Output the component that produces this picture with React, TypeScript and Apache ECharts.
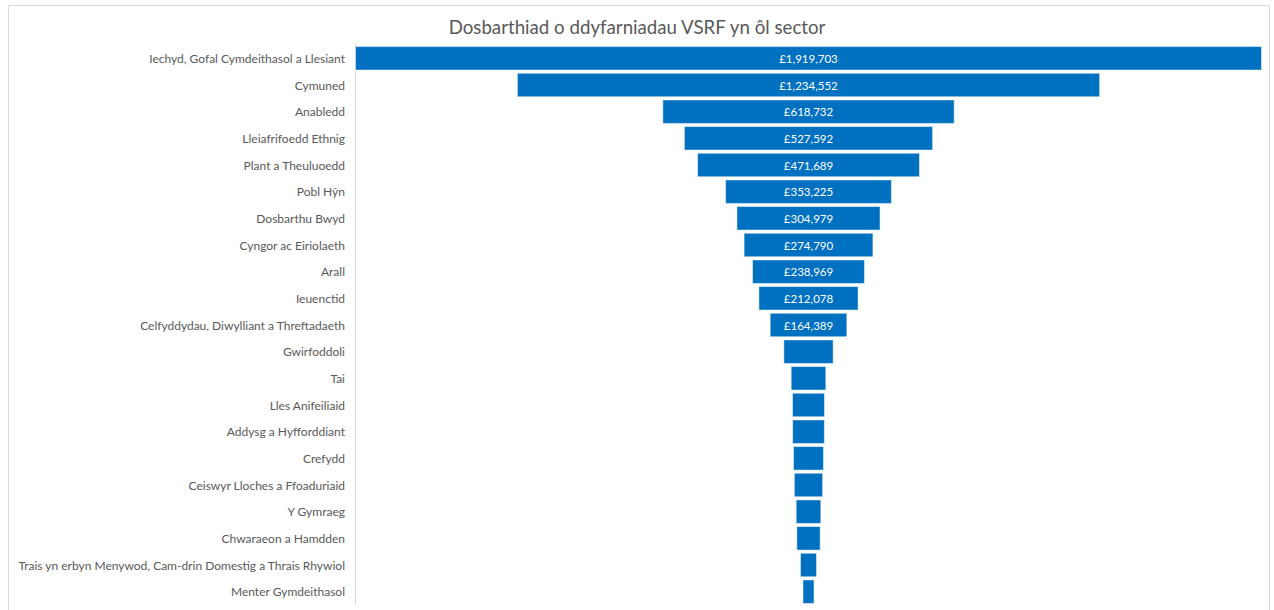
import React, { useEffect, useRef } from "react";
import * as echarts from "echarts";

const title = "Dosbarthiad o ddyfarniadau VSRF yn ôl sector";

const categories = [
  "Iechyd, Gofal Cymdeithasol a Llesiant",
  "Cymuned",
  "Anabledd",
  "Lleiafrifoedd Ethnig",
  "Plant a Theuluoedd",
  "Pobl Hŷn",
  "Dosbarthu Bwyd",
  "Cyngor ac Eiriolaeth",
  "Arall",
  "Ieuenctid",
  "Celfyddydau, Diwylliant a Threftadaeth",
  "Gwirfoddoli",
  "Tai",
  "Lles Anifeiliaid",
  "Addysg a Hyfforddiant",
  "Crefydd",
  "Ceiswyr Lloches a Ffoaduriaid",
  "Y Gymraeg",
  "Chwaraeon a Hamdden",
  "Trais yn erbyn Menywod, Cam-drin Domestig a Thrais Rhywiol",
  "Menter Gymdeithasol",
];

const values = [
  1919703, 1234552, 618732, 527592, 471689, 353225, 304979, 274790, 238969,
  212078, 164389, 106500, 75500, 69800, 69300, 65600, 62000, 54300, 51500,
  36000, 25400,
];

// Excel only printed the value on bars wide enough to hold it
const labelled = [
  true, true, true, true, true, true, true, true, true, true, true,
  false, false, false, false, false, false, false, false, false, false,
];

const fmt = (v: number) => "£" + v.toLocaleString("en-GB");

export default function App() {
  const ref = useRef<HTMLDivElement>(null);
  useEffect(() => {
    if (!ref.current) return;
    const chart = echarts.init(ref.current, null, { renderer: "svg" });
    const maxV = Math.max(...values);
    const font = "Lato, 'Open Sans', sans-serif";
    chart.setOption({
      animation: false,
      backgroundColor: "#ffffff",
      textStyle: { fontFamily: font },
      title: {
        text: title,
        left: "center",
        top: 12,
        textStyle: {
          color: "#595959",
          fontSize: 18.7,
          fontWeight: "normal",
          fontFamily: font,
        },
      },
      graphic: [
        {
          type: "rect",
          shape: { x: 8.5, y: 5.5, width: 1261, height: 620 },
          style: { fill: "none", stroke: "#d9d9d9", lineWidth: 1 },
          silent: true,
          z: -1,
        },
      ],
      grid: {
        left: 355,
        right: 12,
        top: 45,
        bottom: 5,
        containLabel: false,
        outerBoundsMode: "none",
      },
      xAxis: {
        type: "value",
        min: 0,
        max: maxV,
        show: false,
      },
      yAxis: {
        type: "category",
        data: categories,
        inverse: true,
        axisLine: { show: true, lineStyle: { color: "#d9d9d9", width: 1 } },
        axisTick: { show: false },
        axisLabel: {
          color: "#595959",
          fontSize: 12,
          margin: 10,
          fontFamily: font,
        },
      },
      series: [
        {
          type: "bar",
          stack: "funnel",
          silent: true,
          itemStyle: { color: "transparent" },
          data: values.map((v) => (maxV - v) / 2),
          barCategoryGap: "8%",
        },
        {
          type: "bar",
          stack: "funnel",
          barCategoryGap: "8%",
          itemStyle: {
            color: "#0070C0",
            borderColor: "rgba(255,255,255,0.5)",
            borderWidth: 1,
          },
          data: values.map((v, i) => ({
            value: v,
            label: {
              show: labelled[i],
              position: "inside",
              color: "#ffffff",
              fontSize: 11.5,
              fontFamily: font,
              formatter: () => fmt(v),
            },
          })),
        },
      ],
    });
    return () => chart.dispose();
  }, []);
  return (
    <div
      ref={ref}
      style={{ position: "fixed", left: 0, top: 0, width: 1274, height: 610 }}
    />
  );
}
